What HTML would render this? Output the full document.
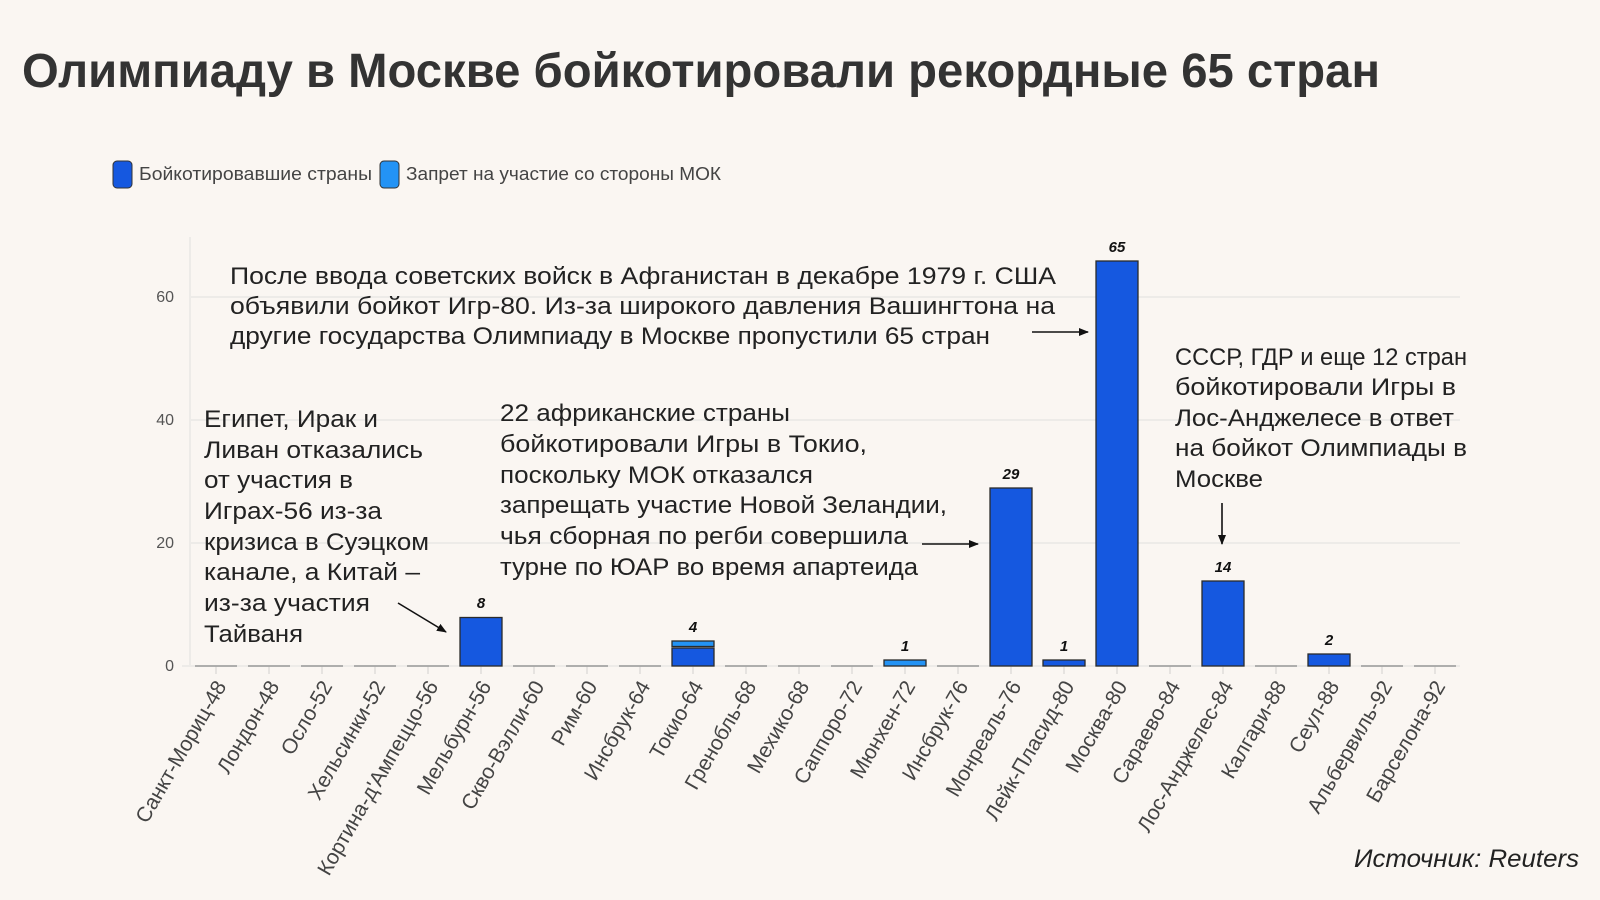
<!DOCTYPE html>
<html><head><meta charset="utf-8"><style>
html,body{margin:0;padding:0;background:#faf6f2;}
svg{display:block;}
text{font-family:"Liberation Sans","DejaVu Sans",sans-serif;}
</style></head><body>
<svg width="1600" height="900" viewBox="0 0 1600 900" xmlns="http://www.w3.org/2000/svg">
<rect width="1600" height="900" fill="#faf6f2"/>
<defs>
<marker id="ah" markerWidth="10" markerHeight="10" refX="9" refY="5" orient="auto" markerUnits="userSpaceOnUse">
<path d="M0,1 L10,5 L0,9 Z" fill="#111"/>
</marker>
</defs>
<!-- Title -->
<text x="22" y="87" font-size="48" font-weight="bold" fill="#333" textLength="1358" lengthAdjust="spacingAndGlyphs">Олимпиаду в Москве бойкотировали рекордные 65 стран</text>
<!-- Legend -->
<rect x="113" y="161" width="19" height="27" rx="4" fill="#1558e0" stroke="#333" stroke-width="1"/>
<text x="139" y="180" font-size="18" fill="#444" textLength="233" lengthAdjust="spacingAndGlyphs">Бойкотировавшие страны</text>
<rect x="380" y="161" width="19" height="27" rx="4" fill="#2393f5" stroke="#333" stroke-width="1"/>
<text x="406" y="180" font-size="18" fill="#444" textLength="315" lengthAdjust="spacingAndGlyphs">Запрет на участие со стороны МОК</text>
<!-- Grid -->
<g stroke="#edebe8" stroke-width="2">
<line x1="190" y1="297" x2="1460" y2="297"/>
<line x1="190" y1="420" x2="1460" y2="420"/>
<line x1="190" y1="543" x2="1460" y2="543"/>
<line x1="182" y1="666" x2="1460" y2="666"/>
<line x1="190" y1="237" x2="190" y2="666"/>
</g>
<g font-size="16" fill="#555" text-anchor="end">
<text x="174" y="302">60</text>
<text x="174" y="425">40</text>
<text x="174" y="548">20</text>
<text x="174" y="671">0</text>
</g>
<!-- x ticks -->
<g stroke="#e6e3e0" stroke-width="2">
<line x1="216" y1="666" x2="216" y2="674"/><line x1="269" y1="666" x2="269" y2="674"/><line x1="322" y1="666" x2="322" y2="674"/><line x1="375" y1="666" x2="375" y2="674"/><line x1="428" y1="666" x2="428" y2="674"/><line x1="481" y1="666" x2="481" y2="674"/><line x1="534" y1="666" x2="534" y2="674"/><line x1="587" y1="666" x2="587" y2="674"/><line x1="640" y1="666" x2="640" y2="674"/><line x1="693" y1="666" x2="693" y2="674"/><line x1="746" y1="666" x2="746" y2="674"/><line x1="799" y1="666" x2="799" y2="674"/><line x1="852" y1="666" x2="852" y2="674"/><line x1="905" y1="666" x2="905" y2="674"/><line x1="958" y1="666" x2="958" y2="674"/><line x1="1011" y1="666" x2="1011" y2="674"/><line x1="1064" y1="666" x2="1064" y2="674"/><line x1="1117" y1="666" x2="1117" y2="674"/><line x1="1170" y1="666" x2="1170" y2="674"/><line x1="1223" y1="666" x2="1223" y2="674"/><line x1="1276" y1="666" x2="1276" y2="674"/><line x1="1329" y1="666" x2="1329" y2="674"/><line x1="1382" y1="666" x2="1382" y2="674"/><line x1="1435" y1="666" x2="1435" y2="674"/>
</g>
<!-- zero bars -->
<g stroke="#999" stroke-width="1.5">
<line x1="195" y1="666" x2="237" y2="666"/><line x1="248" y1="666" x2="290" y2="666"/><line x1="301" y1="666" x2="343" y2="666"/><line x1="354" y1="666" x2="396" y2="666"/><line x1="407" y1="666" x2="449" y2="666"/><line x1="513" y1="666" x2="555" y2="666"/><line x1="566" y1="666" x2="608" y2="666"/><line x1="619" y1="666" x2="661" y2="666"/><line x1="725" y1="666" x2="767" y2="666"/><line x1="778" y1="666" x2="820" y2="666"/><line x1="831" y1="666" x2="873" y2="666"/><line x1="937" y1="666" x2="979" y2="666"/><line x1="1149" y1="666" x2="1191" y2="666"/><line x1="1255" y1="666" x2="1297" y2="666"/><line x1="1361" y1="666" x2="1403" y2="666"/><line x1="1414" y1="666" x2="1456" y2="666"/>
</g>
<!-- bars -->
<g stroke="#2b2b2b" stroke-width="1.3">
<rect x="460" y="617.5" width="42" height="48.5" fill="#1558e0"/>
<rect x="672" y="648" width="42" height="18" fill="#1558e0"/>
<rect x="672" y="641" width="42" height="5.5" fill="#2393f5"/>
<rect x="884" y="660" width="42" height="6" fill="#2393f5"/>
<rect x="990" y="488" width="42" height="178" fill="#1558e0"/>
<rect x="1043" y="660" width="42" height="6" fill="#1558e0"/>
<rect x="1096" y="261" width="42" height="405" fill="#1558e0"/>
<rect x="1202" y="581" width="42" height="85" fill="#1558e0"/>
<rect x="1308" y="654" width="42" height="12" fill="#1558e0"/>
</g>
<!-- bar labels -->
<g font-size="15" font-weight="bold" font-style="italic" fill="#111" text-anchor="middle">
<text x="481" y="608">8</text>
<text x="693" y="632">4</text>
<text x="905" y="651">1</text>
<text x="1011" y="479">29</text>
<text x="1064" y="651">1</text>
<text x="1117" y="252">65</text>
<text x="1223" y="572">14</text>
<text x="1329" y="645">2</text>
</g>
<!-- x labels -->
<g font-size="21" fill="#444" text-anchor="end">
<text transform="translate(227,686) rotate(-60)">Санкт-Мориц-48</text>
<text transform="translate(280,686) rotate(-60)">Лондон-48</text>
<text transform="translate(333,686) rotate(-60)">Осло-52</text>
<text transform="translate(386,686) rotate(-60)">Хельсинки-52</text>
<text transform="translate(439,686) rotate(-60)">Кортина-д'Ампеццо-56</text>
<text transform="translate(492,686) rotate(-60)">Мельбурн-56</text>
<text transform="translate(545,686) rotate(-60)">Скво-Вэлли-60</text>
<text transform="translate(598,686) rotate(-60)">Рим-60</text>
<text transform="translate(651,686) rotate(-60)">Инсбрук-64</text>
<text transform="translate(704,686) rotate(-60)">Токио-64</text>
<text transform="translate(757,686) rotate(-60)">Гренобль-68</text>
<text transform="translate(810,686) rotate(-60)">Мехико-68</text>
<text transform="translate(863,686) rotate(-60)">Саппоро-72</text>
<text transform="translate(916,686) rotate(-60)">Мюнхен-72</text>
<text transform="translate(969,686) rotate(-60)">Инсбрук-76</text>
<text transform="translate(1022,686) rotate(-60)">Монреаль-76</text>
<text transform="translate(1075,686) rotate(-60)">Лейк-Пласид-80</text>
<text transform="translate(1128,686) rotate(-60)">Москва-80</text>
<text transform="translate(1181,686) rotate(-60)">Сараево-84</text>
<text transform="translate(1234,686) rotate(-60)">Лос-Анджелес-84</text>
<text transform="translate(1287,686) rotate(-60)">Калгари-88</text>
<text transform="translate(1340,686) rotate(-60)">Сеул-88</text>
<text transform="translate(1393,686) rotate(-60)">Альбервиль-92</text>
<text transform="translate(1446,686) rotate(-60)">Барселона-92</text>
</g>
<!-- annotations -->
<g font-size="24" fill="#222">
<text x="230" y="284" textLength="826" lengthAdjust="spacingAndGlyphs">После ввода советских войск в Афганистан в декабре 1979 г. США</text>
<text x="230" y="314" textLength="825" lengthAdjust="spacingAndGlyphs">объявили бойкот Игр-80. Из-за широкого давления Вашингтона на</text>
<text x="230" y="344" textLength="760" lengthAdjust="spacingAndGlyphs">другие государства Олимпиаду в Москве пропустили 65 стран</text>

<text x="204" y="427" textLength="174" lengthAdjust="spacingAndGlyphs">Египет, Ирак и</text>
<text x="204" y="458" textLength="219" lengthAdjust="spacingAndGlyphs">Ливан отказались</text>
<text x="204" y="488" textLength="149" lengthAdjust="spacingAndGlyphs">от участия в</text>
<text x="204" y="519" textLength="178" lengthAdjust="spacingAndGlyphs">Играх-56 из-за</text>
<text x="204" y="550" textLength="225" lengthAdjust="spacingAndGlyphs">кризиса в Суэцком</text>
<text x="204" y="580" textLength="216" lengthAdjust="spacingAndGlyphs">канале, а Китай –</text>
<text x="204" y="611" textLength="166" lengthAdjust="spacingAndGlyphs">из-за участия</text>
<text x="204" y="642" textLength="99" lengthAdjust="spacingAndGlyphs">Тайваня</text>

<text x="500" y="421" textLength="290" lengthAdjust="spacingAndGlyphs">22 африканские страны</text>
<text x="500" y="452" textLength="367" lengthAdjust="spacingAndGlyphs">бойкотировали Игры в Токио,</text>
<text x="500" y="483" textLength="313" lengthAdjust="spacingAndGlyphs">поскольку МОК отказался</text>
<text x="500" y="513" textLength="447" lengthAdjust="spacingAndGlyphs">запрещать участие Новой Зеландии,</text>
<text x="500" y="544" textLength="408" lengthAdjust="spacingAndGlyphs">чья сборная по регби совершила</text>
<text x="500" y="575" textLength="418" lengthAdjust="spacingAndGlyphs">турне по ЮАР во время апартеида</text>

<text x="1175" y="365" textLength="292" lengthAdjust="spacingAndGlyphs">СССР, ГДР и еще 12 стран</text>
<text x="1175" y="395" textLength="281" lengthAdjust="spacingAndGlyphs">бойкотировали Игры в</text>
<text x="1175" y="426" textLength="279" lengthAdjust="spacingAndGlyphs">Лос-Анджелесе в ответ</text>
<text x="1175" y="456" textLength="292" lengthAdjust="spacingAndGlyphs">на бойкот Олимпиады в</text>
<text x="1175" y="487" textLength="88" lengthAdjust="spacingAndGlyphs">Москве</text>
</g>
<!-- arrows -->
<g stroke="#111" stroke-width="1.6" fill="none">
<line x1="1032" y1="332" x2="1088" y2="332" marker-end="url(#ah)"/>
<line x1="922" y1="544" x2="978" y2="544" marker-end="url(#ah)"/>
<line x1="398" y1="603" x2="446" y2="632" marker-end="url(#ah)"/>
<line x1="1222" y1="503" x2="1222" y2="544" marker-end="url(#ah)"/>
</g>
<!-- source -->
<text x="1579" y="867" font-size="25" font-style="italic" fill="#222" text-anchor="end" textLength="225" lengthAdjust="spacingAndGlyphs">Источник: Reuters</text>
</svg>
</body></html>
